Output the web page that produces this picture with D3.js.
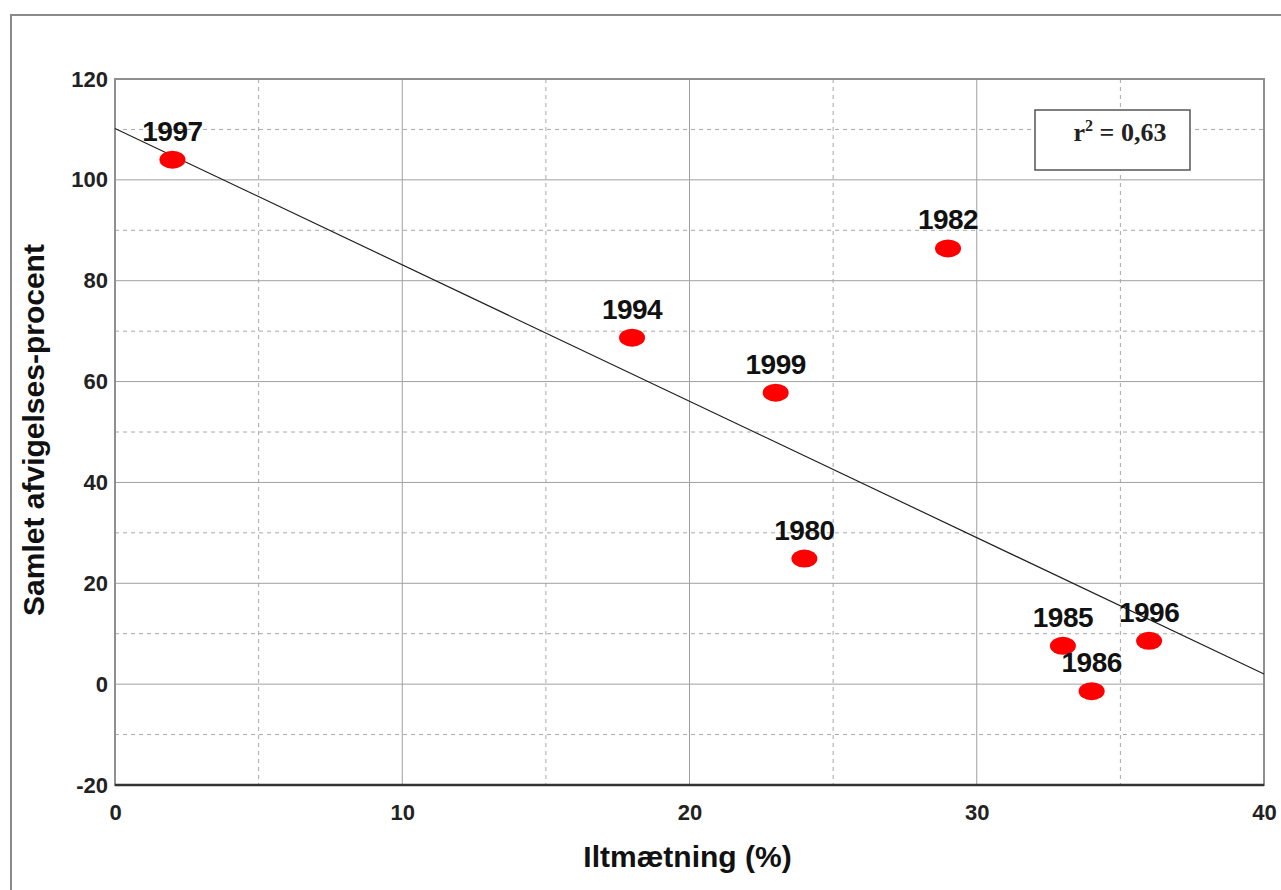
<!DOCTYPE html>
<html>
<head>
<meta charset="utf-8">
<script src="https://cdn.jsdelivr.net/npm/d3@7"></script>
<style>
  body { margin: 0; background: #fff; }
  svg { display: block; font-family: "Liberation Sans", Arial, sans-serif; }
</style>
</head>
<body>
<div id="viz-container"></div>
<script>
// data
let years = ["1997", "1994", "1999", "1982", "1980", "1985", "1986", "1996"];
let iltmaetning = [2, 18, 23, 29, 24, 33, 34, 36];
let afvigelse = [104, 68.7, 57.8, 86.4, 24.9, 7.6, -1.4, 8.6];
let trendX = [0, 40];
let trendY = [110.2, 2];
let xTicks = [0, 10, 20, 30, 40];
let yTicks = [-20, 0, 20, 40, 60, 80, 100, 120];
let xMinor = [5, 15, 25, 35];
let yMinor = [-10, 10, 30, 50, 70, 90, 110];

let W = 1281, H = 890;
let plotLeft = 115, plotRight = 1264, plotTop = 79, plotBottom = 785;

let viz = d3.select("#viz-container")
  .append("svg")
    .attr("width", W)
    .attr("height", H)
  ;

let x = d3.scaleLinear().domain([0, 40]).range([plotLeft, plotRight]);
let y = d3.scaleLinear().domain([-20, 120]).range([plotBottom, plotTop]);

// outer frame (only top and left visible)
viz.append("path")
  .attr("d", `M11,${H} L11,15 L${W},15`)
  .attr("fill", "none")
  .attr("stroke", "#8a8a8a")
  .attr("stroke-width", 2);

// minor dashed grid
viz.selectAll(".xminor").data(xMinor).enter()
  .append("line")
    .attr("x1", d => x(d)).attr("x2", d => x(d))
    .attr("y1", plotTop).attr("y2", plotBottom)
    .attr("stroke", "#a8a8a8")
    .attr("stroke-dasharray", "4,4");
viz.selectAll(".yminor").data(yMinor).enter()
  .append("line")
    .attr("x1", plotLeft).attr("x2", plotRight)
    .attr("y1", d => y(d)).attr("y2", d => y(d))
    .attr("stroke", "#a8a8a8")
    .attr("stroke-dasharray", "4,4");

// major solid grid
viz.selectAll(".xmajor").data(xTicks).enter()
  .append("line")
    .attr("x1", d => x(d)).attr("x2", d => x(d))
    .attr("y1", plotTop).attr("y2", plotBottom)
    .attr("stroke", "#a0a0a0");
viz.selectAll(".ymajor").data(yTicks).enter()
  .append("line")
    .attr("x1", plotLeft).attr("x2", plotRight)
    .attr("y1", d => y(d)).attr("y2", d => y(d))
    .attr("stroke", "#a0a0a0");

// plot border
viz.append("rect")
  .attr("x", plotLeft).attr("y", plotTop)
  .attr("width", plotRight - plotLeft).attr("height", plotBottom - plotTop)
  .attr("fill", "none")
  .attr("stroke", "#8f8f8f")
  .attr("stroke-width", 2);
viz.append("line")
  .attr("x1", plotLeft).attr("x2", plotRight)
  .attr("y1", plotBottom).attr("y2", plotBottom)
  .attr("stroke", "#333")
  .attr("stroke-width", 2.5);

// axes (labels only)
let xAxis = d3.axisBottom(x).tickValues(xTicks).tickSize(0).tickPadding(19)
  .tickFormat(d => String(d));
let yAxis = d3.axisLeft(y).tickValues(yTicks).tickSize(0).tickPadding(7)
  .tickFormat(d => String(d));
let gx = viz.append("g").attr("transform", `translate(0,${plotBottom})`).call(xAxis);
let gy = viz.append("g").attr("transform", `translate(${plotLeft},0)`).call(yAxis);
[gx, gy].forEach(g => {
  g.attr("font-size", null).attr("font-family", null);
  g.select(".domain").remove();
  g.selectAll("text")
    .style("font-family", "'Liberation Sans', Arial, sans-serif")
    .style("font-size", "22px")
    .style("font-weight", "bold")
    .style("fill", "#222");
});

// trend line
viz.append("line")
  .attr("x1", x(trendX[0])).attr("y1", y(trendY[0]))
  .attr("x2", x(trendX[1])).attr("y2", y(trendY[1]))
  .attr("stroke", "#222")
  .attr("stroke-width", 1.2);

// points
let points = years.map((yr, i) => ({ year: yr, x: iltmaetning[i], y: afvigelse[i] }));
viz.selectAll("ellipse").data(points).enter()
  .append("ellipse")
    .attr("cx", d => x(d.x))
    .attr("cy", d => y(d.y))
    .attr("rx", 13)
    .attr("ry", 9)
    .attr("fill", "#ff0000");

viz.selectAll(".lbl").data(points).enter()
  .append("text")
    .attr("x", d => x(d.x))
    .attr("y", d => y(d.y) - 19)
    .attr("text-anchor", "middle")
    .style("font-size", "28px")
    .style("font-weight", "bold")
    .style("letter-spacing", "-0.5px")
    .style("fill", "#111")
    .text(d => d.year);

// r² box
viz.append("rect")
  .attr("x", 1035).attr("y", 110)
  .attr("width", 155).attr("height", 60)
  .attr("fill", "#fff")
  .attr("stroke", "#555")
  .attr("stroke-width", 1.5);
let r2 = viz.append("text")
  .attr("x", 1120).attr("y", 141)
  .attr("text-anchor", "middle")
  .style("font-family", "'Liberation Serif', 'Times New Roman', serif")
  .style("font-size", "26px")
  .style("font-weight", "bold")
  .style("fill", "#222");
r2.append("tspan").text("r");
r2.append("tspan").attr("dy", -10).style("font-size", "16px").text("2");
r2.append("tspan").attr("dy", 10).text(" = 0,63");

// axis titles
viz.append("text")
  .attr("x", x(20) - 2).attr("y", 867)
  .attr("text-anchor", "middle")
  .style("font-size", "30px")
  .style("font-weight", "bold")
  .style("fill", "#111")
  .text("Iltmætning (%)");
viz.append("text")
  .attr("transform", "translate(44,430) rotate(-90)")
  .attr("text-anchor", "middle")
  .style("font-size", "30px")
  .style("font-weight", "bold")
  .style("fill", "#111")
  .text("Samlet afvigelses-procent");
</script>
</body>
</html>
